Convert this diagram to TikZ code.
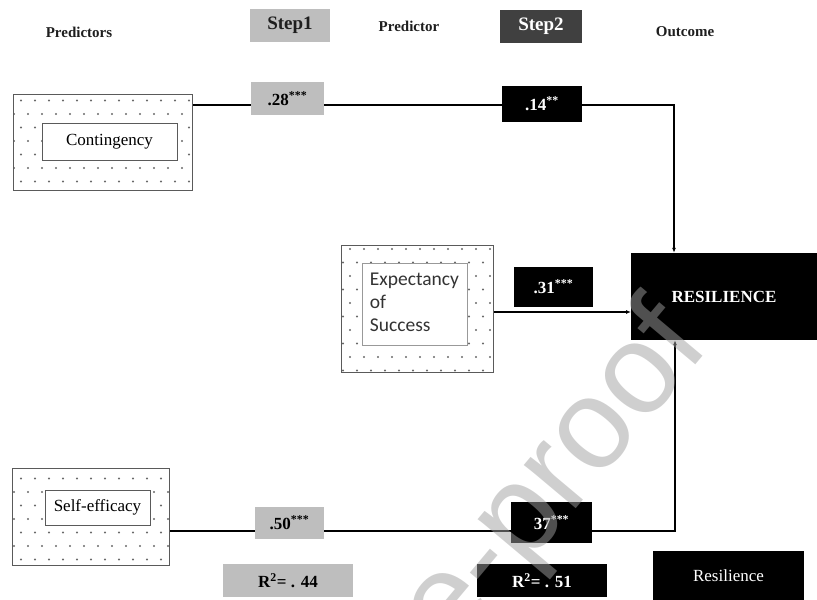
\documentclass[tikz,border=0pt]{standalone}
\usepackage{fontspec}
\setmainfont{Liberation Serif}
\newfontfamily\calibrifont{Carlito}
\newfontfamily\markfont{Liberation Sans}
\usepackage{tikz}
\usetikzlibrary{
  arrows.meta,
  patterns.meta,
  backgrounds
}
\definecolor{stepgray}{RGB}{190, 190, 190}
\definecolor{stepdark}{RGB}{64, 64, 64}
\definecolor{coefblack}{RGB}{0, 0, 0}
\definecolor{framecolor}{RGB}{90, 90, 90}
\definecolor{dotcolor}{RGB}{105, 105, 105}
\definecolor{labelcolor}{RGB}{30, 30, 30}
\definecolor{markcolor}{RGB}{160, 160, 160}
\tikzdeclarepattern{
  name=sparsedots,
  type=colored,
  bottom left={(-1.5pt,-1.5pt)},
  top right={(12.5pt,25.5pt)},
  tile size={(14pt,27pt)},
  code={
    \fill[dotcolor] (0pt,0pt) circle (1.1pt);
    \fill[dotcolor] (7pt,13.5pt) circle (1.1pt);
  }
}
\tikzset{
headlabel/.style={
  font=\bfseries\fontsize{15}{18}\selectfont,
  text=labelcolor,
  align=center
},
stepbox/.style={
  inner sep=0pt,
  font=\bfseries\fontsize{19}{22}\selectfont
},
outerbox/.style={
  draw=framecolor,
  line width=1pt,
  pattern=sparsedots,
  inner sep=0pt
},
innerbox/.style={
  draw=framecolor,
  line width=0.9pt,
  fill=white,
  inner sep=0pt,
  font=\fontsize{17}{20}\selectfont
},
coefgray/.style={
  fill=stepgray,
  inner sep=0pt,
  text=black,
  font=\bfseries\fontsize{17}{20}\selectfont
},
coefblack/.style={
  fill=coefblack,
  inner sep=0pt,
  text=white,
  font=\bfseries\fontsize{17}{20}\selectfont
},
link/.style={
  line width=1.3pt,
  draw=black
},
arrow/.style={
  link,
  -{Latex[length=5pt,width=4pt]}
}
}

\begin{document}
\begin{tikzpicture}[x=1pt, y=-1pt]
  \useasboundingbox (0,0) rectangle (817,600);

  % Header row
  \node[headlabel] (hpreds) at (79,32) {Predictors};
  \node[stepbox, fill=stepgray, text=labelcolor, minimum width=80, minimum height=33] (step1) at (290,25.5) {Step1};
  \node[headlabel] (hpred) at (409,26) {Predictor};
  \node[stepbox, fill=stepdark, text=white, minimum width=82, minimum height=33] (step2) at (541,26.5) {Step2};
  \node[headlabel] (hout) at (685,32) {Outcome};

  % Predictor boxes
  \node[outerbox, minimum width=179, minimum height=96] (contout) at (102.5,142) {};
  \node[innerbox, minimum width=135, minimum height=37] (contin) at (109.5,141.5) {Contingency};
  \node[outerbox, minimum width=152, minimum height=127] (expout) at (417,308.5) {};
  \node[innerbox, draw=black!40, minimum width=105, minimum height=82, align=left,
        font=\calibrifont\fontsize{19.5}{23}\selectfont, text=black!80] (expin) at (414.5,304)
       {Expectancy\\of\\Success\phantom{cy}};
  \node[outerbox, minimum width=157, minimum height=97] (selfout) at (90.5,516.5) {};
  \node[innerbox, minimum width=105, minimum height=35] (selfin) at (97.5,507.5) {Self-efficacy};

  % Outcome
  \node[coefblack, minimum width=186, minimum height=87] (resil) at (724,296.5) {RESILIENCE};

  % Coefficients
  \node[coefgray, minimum width=73, minimum height=33] (b28) at (287.5,98.5) {.28\textsuperscript{***}};
  \node[coefblack, minimum width=80, minimum height=36] (b14) at (542,104) {.14\textsuperscript{**}};
  \node[coefblack, minimum width=79, minimum height=40] (b31) at (553.5,287) {.31\textsuperscript{***}};
  \node[coefgray, minimum width=69, minimum height=32] (b50) at (289.5,523) {.50\textsuperscript{***}};
  \node[coefblack, minimum width=81, minimum height=41] (b37) at (551.5,522.5) {37\textsuperscript{***}};

  % Model summary
  \node[coefgray, minimum width=130, minimum height=33] (r44) at (288,580.5) {R\textsuperscript{2}= . 44};
  \node[coefblack, minimum width=130, minimum height=33] (r51) at (542,580.5) {R\textsuperscript{2}= . 51};
  \node[coefblack, minimum width=151, minimum height=49, font=\fontsize{17}{20}\selectfont] (resil2) at (728.5,575.5) {Resilience};

  % Paths
  \coordinate (ctop) at (674,105);
  \coordinate (cmid) at (631,312);
  \coordinate (cbot) at (675,531);
  \begin{scope}[on background layer]
    \draw[arrow] (contout.east |- ctop) -- (ctop) -- (resil.north -| ctop);
    \draw[arrow] (expout.east |- cmid) -- (cmid);
    \draw[arrow] (selfout.east |- cbot) -- (cbot) -- (resil.south -| cbot);
  \end{scope}

  % Watermark
  \begin{scope}
    \clip (0,0) rectangle (817,600);
    \node[rotate=50, anchor=base east, inner sep=0pt, text=markcolor, text opacity=0.5,
          font=\markfont\fontsize{128}{128}\selectfont] (wmark) at (712,346) {Pre-proof};
  \end{scope}
\end{tikzpicture}
\end{document}
